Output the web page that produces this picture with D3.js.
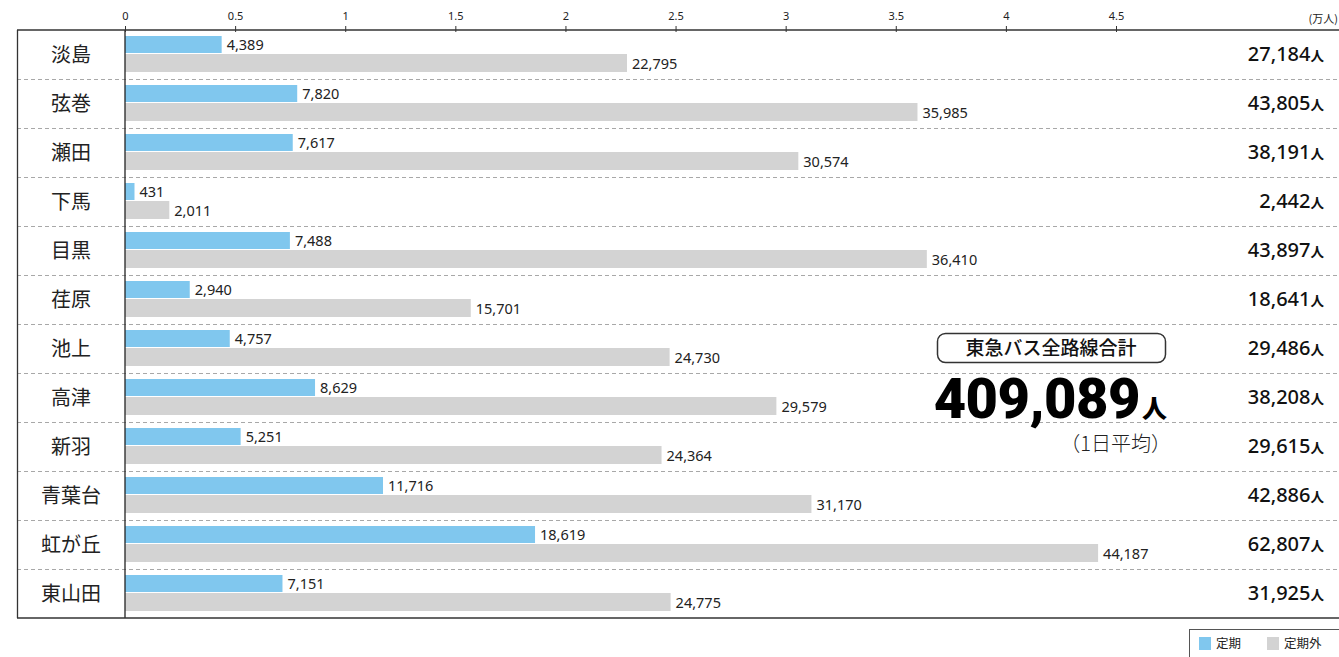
<!DOCTYPE html>
<html><head><meta charset="utf-8">
<script src="https://cdn.jsdelivr.net/npm/d3@7"></script>
<style>
body{margin:0;background:#fff;}
svg{display:block;font-family:"Noto Sans CJK JP","Noto Sans",sans-serif;}
</style></head>
<body><svg id="c" width="1339" height="657"></svg>
<script>
const categories = ["淡島","弦巻","瀬田","下馬","目黒","荏原","池上","高津","新羽","青葉台","虹が丘","東山田"];
const teiki = [4389,7820,7617,431,7488,2940,4757,8629,5251,11716,18619,7151];
const teikigai = [22795,35985,30574,2011,36410,15701,24730,29579,24364,31170,44187,24775];
const totals = [27184,43805,38191,2442,43897,18641,29486,38208,29615,42886,62807,31925];
const tickValues = [0,0.5,1,1.5,2,2.5,3,3.5,4,4.5];
const seriesNames = ["定期","定期外"];
const grandTotal = 409089;
const colors = {"定期":"#80c7ee","定期外":"#d3d3d3"};

(function(){
const svg = d3.select("#c");
const fmt = d3.format(",");
const L = 17, R = 1339, T = 30, B = 618, x0 = 125;
const numFont = "'Noto Sans','Open Sans',sans-serif";

const x = d3.scaleLinear().domain([0,4.5]).range([x0, 1116]);
const y = d3.scaleBand().domain(categories).range([T,B]).padding(0);
const yi = d3.scaleBand().domain(seriesNames).range([6,42]).paddingInner(0.0);

svg.append("g").selectAll("line").data(categories.slice(1)).join("line")
  .attr("x1",L).attr("x2",R)
  .attr("y1",d=>y(d)+0.5).attr("y2",d=>y(d)+0.5)
  .attr("stroke","#a8a8a8").attr("stroke-width",1).attr("stroke-dasharray","4,3");

const rows = svg.append("g").selectAll("g").data(categories).join("g")
  .attr("transform",d=>`translate(0,${y(d)})`);

rows.append("rect").attr("x",x(0)).attr("y",yi("定期"))
  .attr("width",(d,i)=>x(teiki[i]/10000)-x(0)).attr("height",yi.bandwidth()-1)
  .attr("fill",colors["定期"]);
rows.append("rect").attr("x",x(0)).attr("y",yi("定期外"))
  .attr("width",(d,i)=>x(teikigai[i]/10000)-x(0)).attr("height",yi.bandwidth())
  .attr("fill",colors["定期外"]);

rows.append("text").attr("x",(d,i)=>x(teiki[i]/10000)+5).attr("y",yi("定期")+yi.bandwidth()/2)
  .attr("dy","0.35em").attr("font-size",14.5).attr("fill","#222")
  .attr("font-family",numFont)
  .text((d,i)=>fmt(teiki[i]));
rows.append("text").attr("x",(d,i)=>x(teikigai[i]/10000)+5).attr("y",yi("定期外")+yi.bandwidth()/2+1)
  .attr("dy","0.35em").attr("font-size",14.5).attr("fill","#222")
  .attr("font-family",numFont)
  .text((d,i)=>fmt(teikigai[i]));

rows.append("text").attr("x",71).attr("y",y.bandwidth()/2).attr("dy","0.35em")
  .attr("text-anchor","middle").attr("font-size",20).attr("font-weight",400).attr("fill","#222").text(d=>d);

const tt = rows.append("text").attr("x",1324).attr("y",y.bandwidth()/2+1).attr("dy","0.35em")
  .attr("text-anchor","end").attr("fill","#111");
tt.append("tspan").attr("font-size",20).attr("font-weight",500)
  .attr("font-family",numFont).text((d,i)=>fmt(totals[i]));
tt.append("tspan").attr("font-size",13.5).attr("font-weight",700).text("人");

svg.append("line").attr("x1",L+0.5).attr("x2",L+0.5).attr("y1",T).attr("y2",B)
  .attr("stroke","#333").attr("stroke-width",1.3);
svg.append("line").attr("x1",x0).attr("x2",x0).attr("y1",T).attr("y2",B)
  .attr("stroke","#222").attr("stroke-width",1.3);
svg.append("line").attr("x1",L).attr("x2",R).attr("y1",B).attr("y2",B)
  .attr("stroke","#333").attr("stroke-width",1.3);

const axis = svg.append("g").attr("transform",`translate(0,${T})`)
  .call(d3.axisTop(x).tickValues(tickValues).tickSize(4).tickPadding(6).tickFormat(d=>String(d)));
axis.select(".domain").remove();
axis.selectAll(".tick line").attr("y2",-4).attr("y1",2).attr("stroke","#333");
axis.selectAll(".tick text").attr("font-size",11).attr("fill","#222")
  .attr("font-family",numFont);
svg.append("line").attr("x1",L).attr("x2",R).attr("y1",T).attr("y2",T)
  .attr("stroke","#333").attr("stroke-width",1.3);
svg.append("text").attr("x",1338).attr("y",23).attr("text-anchor","end")
  .attr("font-size",11).attr("fill","#222").text("(万人)");

svg.append("rect").attr("x",937.5).attr("y",333.5).attr("width",228).attr("height",29)
  .attr("rx",8).attr("fill","#fff").attr("stroke","#333").attr("stroke-width",1.5);
svg.append("text").attr("x",1051).attr("y",348).attr("dy","0.35em").attr("text-anchor","middle")
  .attr("font-size",19).attr("font-weight",500).attr("fill","#111").text("東急バス全路線合計");
const gt = svg.append("text").attr("x",1167).attr("y",418).attr("text-anchor","end").attr("fill","#000");
gt.append("tspan").attr("font-family","Roboto,sans-serif").attr("font-weight",900)
  .attr("font-size",56).attr("letter-spacing",-0.5).text(fmt(grandTotal));
gt.append("tspan").attr("font-size",25).attr("font-weight",900).attr("dx",2).text("人");
svg.append("text").attr("x",1171).attr("y",444).attr("dy","0.35em").attr("text-anchor","end")
  .attr("font-size",20).attr("font-weight",300).attr("fill","#222").text("（1日平均）");

const lg = svg.append("g");
lg.append("rect").attr("x",1189.5).attr("y",629.5).attr("width",160).attr("height",30)
  .attr("fill","#fff").attr("stroke","#555").attr("stroke-width",1);
const items = lg.selectAll("g").data(seriesNames).join("g")
  .attr("transform",(d,i)=>`translate(${1199+i*68},637)`);
items.append("rect").attr("width",12).attr("height",13).attr("fill",d=>colors[d]);
items.append("text").attr("x",17).attr("y",7).attr("dy","0.35em").attr("font-size",12.5)
  .attr("fill","#222").text(d=>d);
})();
</script></body></html>
